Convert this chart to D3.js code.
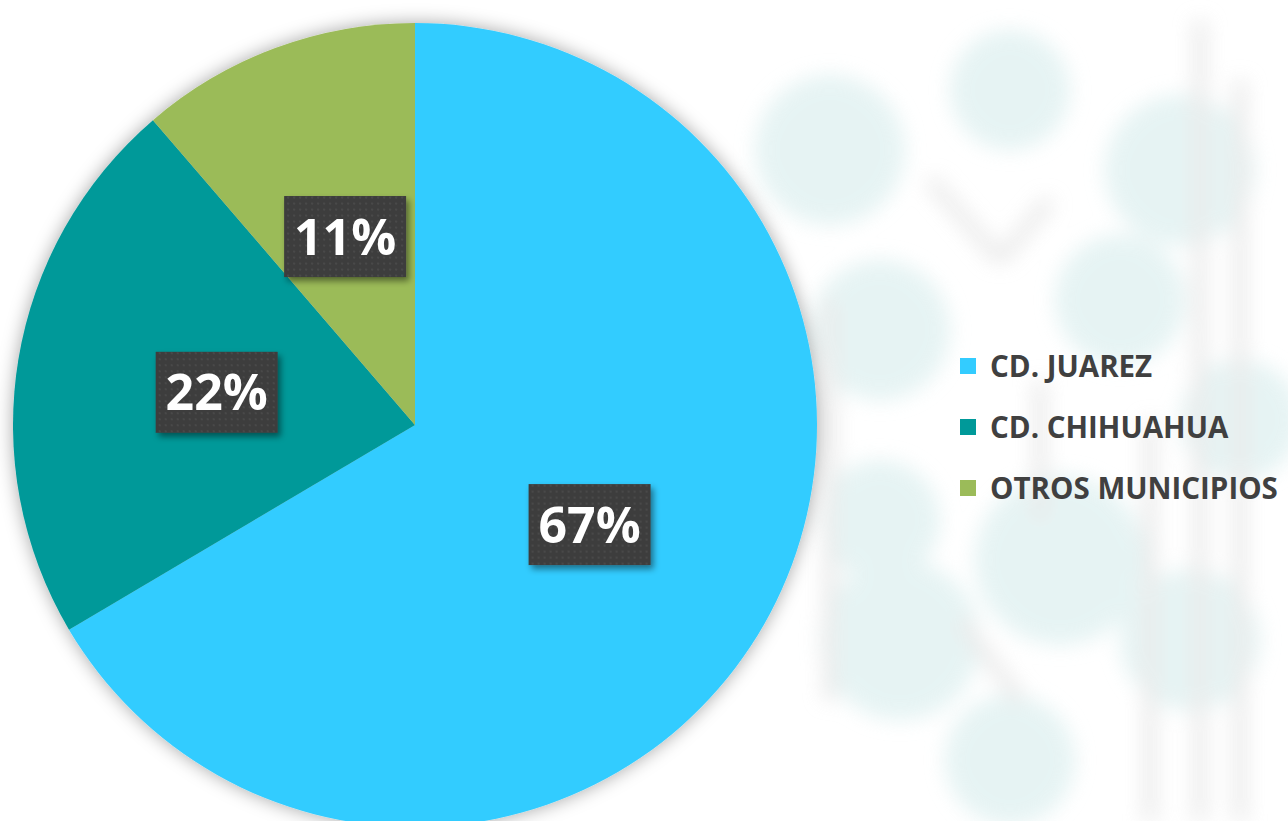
<!DOCTYPE html>
<html>
<head>
<meta charset="utf-8">
<script src="https://cdn.jsdelivr.net/npm/d3@7"></script>
<style>
  body { margin: 0; background: #fff; overflow: hidden; }
  svg { display: block; }
</style>
</head>
<body>
<svg id="chart" width="1288" height="821"></svg>
<script>
// datos del grafico
const municipios = ['CD. JUAREZ', 'CD. CHIHUAHUA', 'OTROS MUNICIPIOS'];
const porcentajes = [66.5, 22.2, 11.3];
const etiquetas = ['67%', '22%', '11%'];
const colores = ['#33CCFF', '#009999', '#9BBB59'];

const svg = d3.select('#chart');
const width = 1288, height = 821;

const defs = svg.append('defs');

const blur = defs.append('filter').attr('id', 'blur')
    .attr('filterUnits', 'userSpaceOnUse')
    .attr('x', 0).attr('y', 0).attr('width', width).attr('height', height);
blur.append('feGaussianBlur').attr('stdDeviation', 10);

const sombraPie = defs.append('filter').attr('id', 'sombraPie')
    .attr('x', '-10%').attr('y', '-10%').attr('width', '120%').attr('height', '120%');
sombraPie.append('feDropShadow')
    .attr('dx', 0).attr('dy', 0).attr('stdDeviation', 9)
    .attr('flood-color', '#000').attr('flood-opacity', 0.35);

const sombraCaja = defs.append('filter').attr('id', 'sombraCaja')
    .attr('x', '-20%').attr('y', '-20%').attr('width', '150%').attr('height', '160%');
sombraCaja.append('feDropShadow')
    .attr('dx', 3).attr('dy', 4).attr('stdDeviation', 3)
    .attr('flood-color', '#000').attr('flood-opacity', 0.45);

const puntos = defs.append('pattern').attr('id', 'puntos')
    .attr('width', 6).attr('height', 6).attr('patternUnits', 'userSpaceOnUse');
puntos.append('rect').attr('width', 6).attr('height', 6).attr('fill', '#3d3d3d');
puntos.append('rect').attr('x', 2).attr('y', 2).attr('width', 2).attr('height', 2).attr('fill', '#4a4a4a');

/*fondo decorativo*/
const fondo = svg.append('g').attr('filter', 'url(#blur)').attr('opacity', 0.7);
const circulos = [[830, 150, 75], [1010, 90, 60], [1180, 170, 75], [880, 330, 70], [1120, 300, 65],
    [900, 640, 80], [1060, 560, 85], [1190, 640, 70], [1010, 760, 65], [880, 520, 60], [1240, 420, 60]];
fondo.selectAll('circle').data(circulos).enter().append('circle')
    .attr('cx', (c) => c[0]).attr('cy', (c) => c[1]).attr('r', (c) => c[2])
    .attr('fill', '#dcefef');
const lineas = [[1200, 20, 1200, 821], [1240, 80, 1240, 821], [930, 180, 1000, 260], [1000, 260, 1050, 200],
    [1040, 380, 1040, 520], [830, 300, 830, 700], [1150, 420, 1150, 821], [960, 620, 1020, 700]];
fondo.selectAll('line').data(lineas).enter().append('line')
    .attr('x1', (l) => l[0]).attr('y1', (l) => l[1]).attr('x2', (l) => l[2]).attr('y2', (l) => l[3])
    .attr('stroke', '#e2e2e2').attr('stroke-width', 14);

/*pastel*/
const cx = 415, cy = 425, radio = 402;
const pie = d3.pie().sort(null).value((d) => d.valor);
const arco = d3.arc().innerRadius(0).outerRadius(radio);
const arcoEtiqueta = d3.arc().innerRadius(radio * 0.5).outerRadius(radio * 0.5);

const datos = municipios.map((m, i) => ({ nombre: m, valor: porcentajes[i], etiqueta: etiquetas[i], color: colores[i] }));
const arcos = pie(datos);

const chart = svg.append('g').attr('transform', `translate(${cx}, ${cy})`);

chart.append('g').attr('filter', 'url(#sombraPie)')
    .selectAll('path').data(arcos).enter().append('path')
    .attr('d', arco)
    .attr('fill', (d) => d.data.color);

/*etiquetas*/
const cajaW = 122, cajaH = 81;
const grupos = chart.selectAll('.etiqueta').data(arcos).enter().append('g')
    .attr('class', 'etiqueta')
    .attr('transform', (d) => `translate(${arcoEtiqueta.centroid(d)})`);

grupos.append('rect')
    .attr('x', -cajaW / 2).attr('y', -cajaH / 2)
    .attr('width', cajaW).attr('height', cajaH)
    .attr('fill', 'url(#puntos)')
    .attr('filter', 'url(#sombraCaja)');

grupos.append('text')
    .attr('text-anchor', 'middle')
    .attr('dy', '0.36em')
    .attr('fill', '#fff')
    .style('font-family', '"Open Sans", sans-serif')
    .style('font-weight', 'bold')
    .style('font-size', '50px')
    .text((d) => d.data.etiqueta);

/*leyenda*/
const leyenda = svg.append('g').attr('transform', 'translate(960, 366)');
const filas = leyenda.selectAll('g').data(datos).enter().append('g')
    .attr('transform', (d, i) => `translate(0, ${i * 61})`);

filas.append('rect')
    .attr('x', 0).attr('y', -8).attr('width', 16).attr('height', 16)
    .attr('fill', (d) => d.color);

filas.append('text')
    .attr('x', 30).attr('dy', '0.36em')
    .attr('fill', '#404040')
    .style('font-family', '"Open Sans", sans-serif')
    .style('font-weight', 'bold')
    .style('font-size', '29.5px')
    .text((d) => d.nombre);
</script>
</body>
</html>
